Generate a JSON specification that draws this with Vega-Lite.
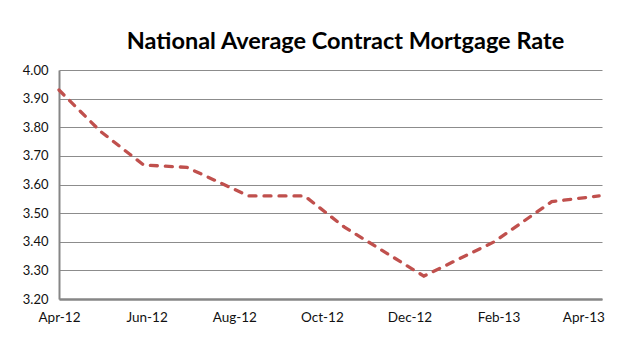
{
  "$schema": "https://vega.github.io/schema/vega-lite/v6.json",
  "width": 543,
  "height": 229,
  "autosize": "none",
  "padding": {"left": 59, "top": 70, "right": 29, "bottom": 57},
  "background": "white",
  "title": {
    "text": "National Average Contract Mortgage Rate",
    "font": "Lato",
    "fontSize": 23.5,
    "fontWeight": "bold",
    "color": "#000000",
    "anchor": "middle",
    "dx": 15,
    "offset": 11
  },
  "data": {
    "values": [
      {"date": "2012-04-01", "rate": 3.93},
      {"date": "2012-04-30", "rate": 3.785},
      {"date": "2012-05-30", "rate": 3.668},
      {"date": "2012-06-29", "rate": 3.66},
      {"date": "2012-08-11", "rate": 3.56},
      {"date": "2012-09-19", "rate": 3.56},
      {"date": "2012-10-17", "rate": 3.45},
      {"date": "2012-12-11", "rate": 3.28},
      {"date": "2013-01-29", "rate": 3.40},
      {"date": "2013-03-10", "rate": 3.54},
      {"date": "2013-04-12", "rate": 3.56}
    ]
  },
  "mark": {
    "type": "line",
    "color": "#C0504D",
    "strokeWidth": 3.3,
    "strokeDash": [7, 8],
    "strokeCap": "round",
    "clip": false
  },
  "encoding": {
    "x": {
      "field": "date",
      "type": "temporal",
      "scale": {
        "type": "utc",
        "domain": [
          {"year": 2012, "month": 4, "date": 1, "utc": true},
          {"year": 2013, "month": 4, "date": 14, "utc": true}
        ]
      },
      "axis": {
        "title": null,
        "labelExpr": "utcFormat(datum.value, '%b-%y')",
        "values": [
          {"year": 2012, "month": 4, "date": 1, "utc": true},
          {"year": 2012, "month": 6, "date": 1, "utc": true},
          {"year": 2012, "month": 8, "date": 1, "utc": true},
          {"year": 2012, "month": 10, "date": 1, "utc": true},
          {"year": 2012, "month": 12, "date": 1, "utc": true},
          {"year": 2013, "month": 2, "date": 1, "utc": true},
          {"year": 2013, "month": 4, "date": 1, "utc": true}
        ],
        "grid": false,
        "ticks": false,
        "domainColor": "#868686",
        "domainWidth": 2.5,
        "labelFont": "Lato",
        "labelFontSize": 13.5,
        "labelColor": "#111111",
        "labelPadding": 11,
        "labelFlush": false,
        "labelOverlap": false
      }
    },
    "y": {
      "field": "rate",
      "type": "quantitative",
      "scale": {"domain": [3.2, 4.0], "zero": false, "nice": false},
      "axis": {
        "title": null,
        "values": [3.2, 3.3, 3.4, 3.5, 3.6, 3.7, 3.8, 3.9, 4.0],
        "format": ".2f",
        "grid": true,
        "gridColor": "#8c8c8c",
        "gridWidth": 1,
        "ticks": false,
        "domainColor": "#868686",
        "domainWidth": 2,
        "labelFont": "Lato",
        "labelFontSize": 13,
        "labelColor": "#111111",
        "labelPadding": 11,
        "labelFlush": false
      }
    }
  },
  "config": {
    "view": {"stroke": null}
  }
}
